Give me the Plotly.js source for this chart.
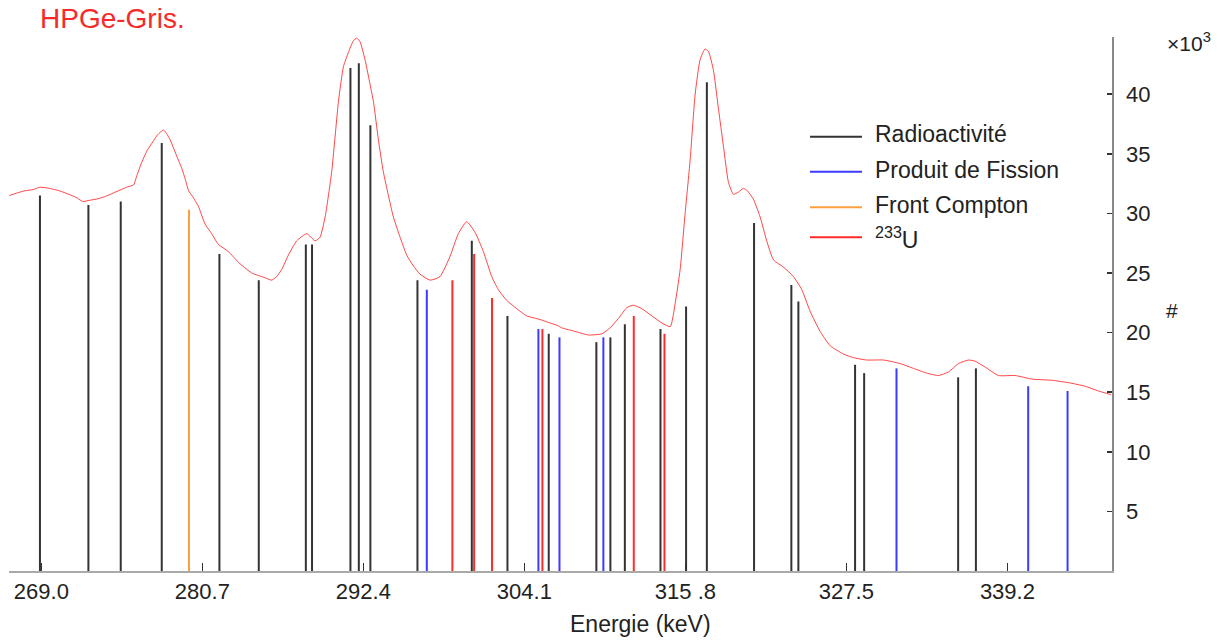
<!DOCTYPE html>
<html>
<head>
<meta charset="utf-8">
<script src="https://cdn.plot.ly/plotly-3.0.1.min.js"></script>
<style>html,body{margin:0;padding:0;background:#fff;}#chart{width:1227px;height:643px;}</style>
</head>
<body>
<div id="chart"></div>
<script>
// ---- spectrum (counts in thousands) ----
const energy = [266.67,267.2,267.8,268.4,268.9,269.6,270.3,271.0,271.6,272.0,272.5,273.0,273.6,274.2,274.8,275.2,275.7,275.95,276.3,276.7,277.1,277.45,277.87,278.1,278.35,278.6,278.84,279.2,279.45,279.7,280.0,280.41,280.9,281.38,281.86,282.59,283.32,284.29,285.26,285.74,286.1,286.47,286.95,287.56,288.29,288.89,289.25,289.62,290.1,290.59,290.95,291.31,291.68,291.92,292.16,292.52,292.89,293.13,293.49,293.85,294.22,294.58,295.07,295.55,296.03,296.52,297.25,297.97,298.70,299.30,299.91,300.52,301.12,301.73,302.21,302.82,303.55,304.27,305.24,305.97,306.5,306.82,307.79,308.75,309.73,310.33,310.94,311.55,312.03,312.64,313.37,314.10,314.70,315.05,315.42,315.78,316.14,316.51,316.87,317.23,317.47,317.84,318.20,318.57,318.93,319.29,319.66,320.02,320.3,320.74,321.23,321.71,322.20,322.92,323.65,324.26,324.86,325.59,326.32,327.29,328.01,328.98,330.19,331.41,332.37,333.34,334.19,334.92,335.64,336.37,336.86,337.59,338.55,339.76,340.98,342.43,343.64,344.85,345.82,346.72];
const counts_k = [31.5,31.7,31.9,32.0,32.2,32.1,31.9,31.6,31.3,31.0,31.1,31.2,31.4,31.7,32.0,32.2,32.4,33.2,34.3,35.3,36.0,36.6,37.0,36.7,36.2,35.5,34.8,33.8,32.9,31.9,31.4,30.6,29.1,28.3,27.4,26.8,25.9,25.0,24.6,24.4,24.7,25.3,26.5,27.7,28.3,27.7,28.0,29.7,33.5,39.4,42.3,43.5,44.5,44.7,44.4,42.9,40.8,39.4,36.2,33.5,31.5,29.7,28.0,26.5,25.6,24.9,24.4,24.7,26.4,28.3,29.3,28.4,26.8,24.7,23.6,22.7,22.0,21.4,21.1,20.8,20.6,20.4,20.1,19.8,19.9,20.4,21.2,22.1,22.3,22.0,21.4,20.8,20.5,22.4,25.3,30.0,34.4,40.0,42.9,43.8,43.6,42.0,38.8,35.6,32.6,31.6,31.8,32.1,31.9,31.2,29.7,27.7,26.1,25.5,24.7,23.6,21.8,20.1,18.9,18.2,17.9,17.7,17.7,17.4,17.0,16.6,16.4,16.7,17.4,17.7,17.6,17.1,16.4,16.4,16.1,16.0,15.8,15.5,15.1,14.8];

// ---- identified lines: energy (keV) and marker height (thousands) ----
const radio_E = [268.9,272.42,274.77,277.75,281.94,284.80,288.22,288.67,291.46,292.07,292.91,296.33,300.28,302.87,305.87,309.33,310.35,311.40,313.99,315.85,317.36,320.79,323.50,324.01,328.13,328.79,335.62,336.91];
const radio_H = [31.5,30.7,31.0,35.9,26.6,24.4,27.4,27.4,42.2,42.6,37.4,24.4,27.7,21.4,19.9,19.2,19.6,20.7,20.3,22.2,41.0,29.2,24.0,22.6,17.3,16.6,16.25,17.0];
const fission_E = [297.01,305.12,306.65,309.84,331.14,340.71,343.57];
const fission_H = [23.6,20.3,19.6,19.6,17.0,15.5,15.1];
const compton_E = [279.73];
const compton_H = [30.3];
const u233_E = [298.87,300.45,301.75,305.41,312.05,314.28];
const u233_H = [24.4,26.6,22.9,20.3,21.4,19.9];

// ---- labels ----
const seriesNames = ["Radioactivité","Produit de Fission","Front Compton","<sup>233</sup>U"];
const xTickVals = [269.0,280.7,292.4,304.1,315.8,327.5,339.2];
const xTickText = ["269.0","280.7","292.4","304.1","315 .8","327.5","339.2"];
const yTickVals = [5,10,15,20,25,30,35,40];
const yTickText = ["5","10","15","20","25","30","35","40"];

// ---- styles ----
const colors = ["#333333","#3b3bff","#ffa040","#ff2a2a"];
const FONT = "Liberation Sans, Arial, sans-serif";
const W = 1227, H = 643;
const M = {l: 9, r: 115, t: 37, b: 72};
const pw = W - M.l - M.r, ph = H - M.t - M.b;
const px2x = p => (p - M.l) / pw;
const py2y = p => (H - M.b - p) / ph;

function stems(E, Hh) {
  const xs = [], ys = [];
  E.forEach((e, i) => { xs.push(e, e, null); ys.push(0, Hh[i], null); });
  return {xs, ys};
}
const groups = [[radio_E, radio_H],[fission_E, fission_H],[compton_E, compton_H],[u233_E, u233_H]];
const traces = groups.map((g, i) => {
  const s = stems(g[0], g[1]);
  return {x: s.xs, y: s.ys, type: "scatter", mode: "lines", name: seriesNames[i],
          line: {color: colors[i], width: 2}, showlegend: false, hoverinfo: "skip"};
});
traces.push({x: energy, y: counts_k, type: "scatter", mode: "lines", name: "HPGe-Gris.",
  line: {color: "rgba(255,0,0,0.72)", width: 1, shape: "spline", smoothing: 0.5}, showlegend: false, hoverinfo: "skip"});

// custom legend
const legLines = [136.7, 171.7, 207.3, 237.3];
const legText = [134, 169.5, 204.5, 238];
const shapes = [], annotations = [];
legLines.forEach((ry, i) => {
  shapes.push({type: "line", xref: "paper", yref: "paper", x0: px2x(810), x1: px2x(862),
    y0: py2y(ry), y1: py2y(ry), line: {color: colors[i], width: 2}});
  annotations.push({xref: "paper", yref: "paper", x: px2x(873), y: py2y(legText[i]), xanchor: "left",
    yanchor: "middle", text: seriesNames[i], showarrow: false,
    font: {family: FONT, size: 23, color: "#222"}});
});
annotations.push({xref: "paper", yref: "paper", x: px2x(1189), y: py2y(42), xanchor: "center", yanchor: "middle",
  text: "×10<sup>3</sup>", showarrow: false, font: {family: FONT, size: 21, color: "#222"}});
annotations.push({xref: "paper", yref: "paper", x: px2x(1172), y: py2y(311), xanchor: "center", yanchor: "middle",
  text: "#", showarrow: false, font: {family: FONT, size: 21, color: "#222"}});
annotations.push({xref: "paper", yref: "paper", x: px2x(640), y: py2y(624), xanchor: "center", yanchor: "middle",
  text: "Energie (keV)", showarrow: false, font: {family: FONT, size: 23, color: "#222"}});

const layout = {
  width: W, height: H, margin: M,
  paper_bgcolor: "#fff", plot_bgcolor: "#fff",
  showlegend: false,
  font: {family: FONT, color: "#222"},
  title: {text: "HPGe-Gris.", xref: "container", yref: "container", x: 40/W, xanchor: "left",
          y: 1 - 18/H, yanchor: "middle", font: {size: 28, color: "#f52a2a", family: FONT}},
  xaxis: {range: [266.65, 346.8], showgrid: false, zeroline: false, showline: true,
          linecolor: "#aaaaaa", linewidth: 2, ticks: "inside", ticklen: 8, tickwidth: 1.5, tickcolor: "#333",
          tickmode: "array", tickvals: xTickVals, ticktext: xTickText, ticklabelstandoff: 0,
          tickfont: {size: 22, color: "#222"}},
  yaxis: {range: [0, 44.8], side: "right", showgrid: false, zeroline: false, showline: true,
          linecolor: "#888888", linewidth: 1.5, ticks: "inside", ticklen: 5, tickwidth: 1.5, tickcolor: "#333",
          tickmode: "array", tickvals: yTickVals, ticktext: yTickText, ticklabelstandoff: 8,
          tickfont: {size: 22, color: "#222"}},
  shapes: shapes, annotations: annotations
};
Plotly.newPlot("chart", traces, layout, {displayModeBar: false, staticPlot: true});
</script>
</body>
</html>
